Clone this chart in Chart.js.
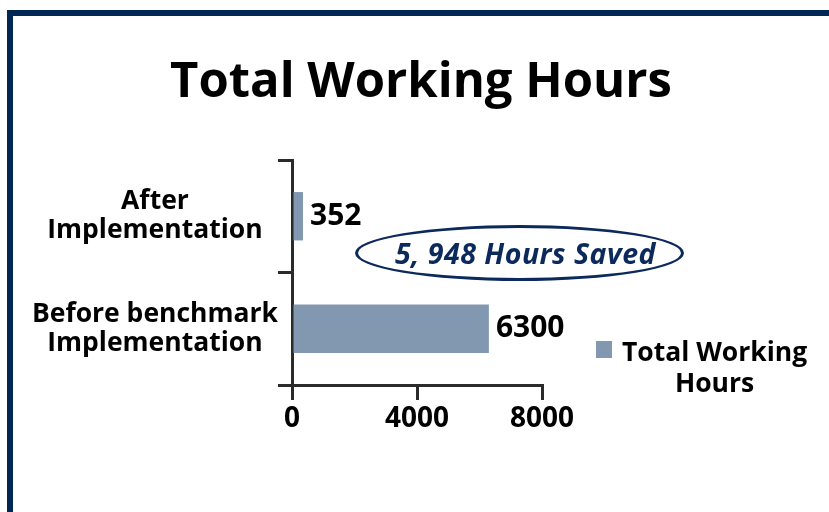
<!DOCTYPE html>
<html lang="en">
<head>
<meta charset="UTF-8">
<title>Total Working Hours</title>
<script src="https://cdn.jsdelivr.net/npm/chart.js"></script>
<style>
    body {
        margin: 0;
        width: 829px;
        height: 512px;
        overflow: hidden;
        background: #fff;
        font-family: "Open Sans", sans-serif;
    }

    #frame {
        position: absolute;
        left: 7px;
        top: 10px;
        width: 840px;
        height: 520px;
        border: 6px solid #002855;
        box-sizing: border-box;
    }

    #title {
        position: absolute;
        left: 13px;
        width: 816px;
        top: 48px;
        margin: 0;
        text-align: center;
        font-size: 49px;
        line-height: 60px;
        font-weight: 700;
        color: #000;
    }

    #chart-box {
        position: absolute;
        left: 13px;
        top: 16px;
        width: 816px;
        height: 496px;
    }

    #saved {
        position: absolute;
        left: 355px;
        top: 225px;
        width: 329px;
        height: 56px;
        border: 3px solid #0b2a5b;
        border-radius: 50%;
        box-sizing: border-box;
        display: flex;
        align-items: center;
        justify-content: center;
        padding-left: 12px;
        color: #0b2a5b;
        font-size: 28.5px;
        letter-spacing: 0.5px;
        font-weight: 700;
        font-style: italic;
    }

    #legend {
        position: absolute;
        left: 596px;
        top: 336px;
        display: flex;
        align-items: flex-start;
        font-size: 26.5px;
        font-weight: 700;
        color: #000;
    }

    #legend .box {
        width: 16px;
        height: 17px;
        margin-top: 5px;
        margin-right: 10px;
    }

    #legend .text {
        text-align: center;
        line-height: 31px;
    }
</style>
</head>
<body>
    <div id="frame"></div>
    <h1 id="title">Total Working Hours</h1>
    <div id="chart-box"><canvas id="hours-chart"></canvas></div>
    <div id="saved">5, 948 Hours Saved</div>
    <div id="legend"></div>

    <script>
        const categories = [['After', 'Implementation'], ['Before benchmark', 'Implementation']];
        const hours = [352, 6300];
        const seriesName = 'Total Working Hours';
        const legendLines = ['Total Working', 'Hours'];
        const xTicks = [0, 4000, 8000];
        const barColor = '#8198b0';
        const axisColor = '#2b2b2b';
        const fontFamily = '"Open Sans"';

        // labels at the end of each bar
        const valueLabels = {
            id: 'valueLabels',
            afterDatasetsDraw(chart) {
                const ctx = chart.ctx;
                const meta = chart.getDatasetMeta(0);
                ctx.save();
                ctx.font = 'bold 30px ' + fontFamily;
                ctx.fillStyle = '#000';
                ctx.textBaseline = 'middle';
                meta.data.forEach((bar, i) => {
                    ctx.fillText(String(chart.data.datasets[0].data[i]), bar.x + 7, bar.y);
                });
                ctx.restore();
            }
        };

        const ctx = document.getElementById('hours-chart').getContext('2d');
        const hoursChart = new Chart(ctx, {
            type: 'bar',
            data: {
                labels: categories,
                datasets: [{
                    label: seriesName,
                    data: hours,
                    backgroundColor: barColor,
                    barPercentage: 0.43,
                    categoryPercentage: 1
                }]
            },
            plugins: [valueLabels],
            options: {
                indexAxis: 'y',
                responsive: true,
                maintainAspectRatio: false,
                animation: false,
                layout: {
                    padding: { top: 144, right: 287, bottom: 67, left: 0 }
                },
                plugins: {
                    legend: { display: false },
                    tooltip: { enabled: false }
                },
                scales: {
                    x: {
                        min: 0,
                        max: 8000,
                        afterBuildTicks: (scale) => {
                            scale.ticks = xTicks.map(v => ({ value: v }));
                        },
                        afterFit: (scale) => { scale.height = 60; },
                        border: { display: true, color: axisColor, width: 3 },
                        grid: {
                            drawOnChartArea: false,
                            drawTicks: true,
                            tickLength: 15,
                            color: axisColor,
                            lineWidth: 3
                        },
                        ticks: {
                            color: '#000',
                            padding: 4,
                            callback: (v) => String(v),
                            font: { family: fontFamily, size: 28, weight: 'bold', lineHeight: 1.1 }
                        }
                    },
                    y: {
                        afterFit: (scale) => { scale.width = 279; },
                        border: { display: true, color: axisColor, width: 3 },
                        grid: {
                            drawOnChartArea: false,
                            drawTicks: true,
                            tickLength: 14,
                            color: axisColor,
                            lineWidth: 3
                        },
                        ticks: {
                            color: '#000',
                            padding: 0,
                            crossAlign: 'center',
                            font: { family: fontFamily, size: 26.5, weight: 'bold', lineHeight: 1.1 }
                        }
                    }
                }
            }
        });

        // legend built from the dataset
        const legend = document.getElementById('legend');
        const box = document.createElement('div');
        box.className = 'box';
        box.style.background = hoursChart.data.datasets[0].backgroundColor;
        const text = document.createElement('div');
        text.className = 'text';
        text.innerHTML = legendLines.join('<br>');
        legend.appendChild(box);
        legend.appendChild(text);
    </script>
</body>
</html>
